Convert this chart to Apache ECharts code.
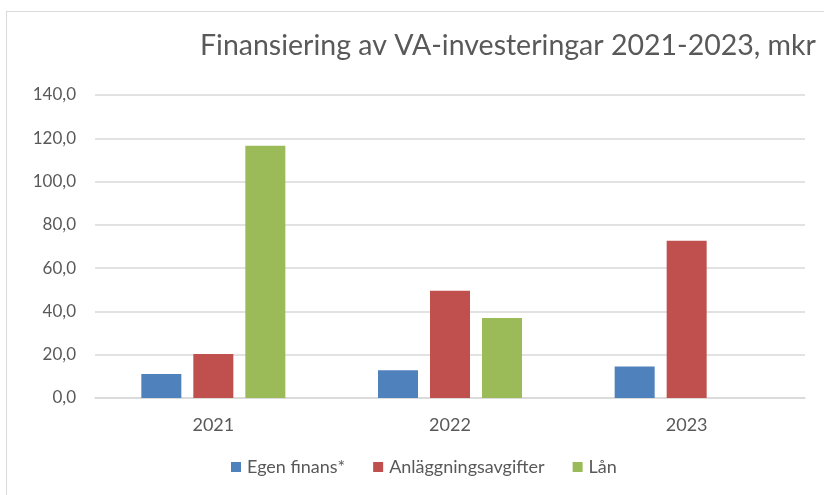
<!DOCTYPE html>
<html>
<head>
<meta charset="utf-8">
<script src="https://cdn.jsdelivr.net/npm/echarts@6/dist/echarts.min.js"></script>
<style>
html, body { margin: 0; padding: 0; background: #fff; }
.frame {
  position: absolute;
  left: 6px;
  top: 11px;
  width: 900px;
  height: 600px;
  border: 1px solid #d9d9d9;
  box-sizing: border-box;
}
#chart {
  position: absolute;
  left: 0;
  top: 0;
  width: 824px;
  height: 495px;
}
</style>
</head>
<body>
<div class="frame"></div>
<div id="chart"></div>
<script>
// data (mkr)
const years = ['2021', '2022', '2023']
const egenFinans = [11.1, 12.8, 14.6]
const anlaggningsavgifter = [20.3, 49.6, 72.7]
const lan = [116.6, 37.0, 0]
const seriesNames = ['Egen finans*', 'Anläggningsavgifter', 'Lån']
const colors = ['#4f81bd', '#c0504d', '#9bbb59']

const font = 'Lato, "Open Sans", sans-serif'
const chart = echarts.init(document.getElementById('chart'))

chart.setOption({
  animation: false,
  textStyle: { fontFamily: font },
  title: {
    text: 'Finansiering av VA-investeringar 2021-2023, mkr',
    left: 195,
    top: 26,
    textStyle: { fontFamily: font, fontSize: 28.5, fontWeight: 'normal', color: '#595959' }
  },
  legend: {
    bottom: 14,
    left: 226,
    itemWidth: 10,
    itemHeight: 10,
    itemGap: 28,
    icon: 'rect',
    textStyle: { fontFamily: font, fontSize: 18, color: '#595959', padding: [0, 0, 0, 1] },
    data: seriesNames
  },
  grid: { left: 95, right: 19, top: 95, bottom: 97 },
  xAxis: {
    type: 'category',
    data: years,
    axisLine: { lineStyle: { color: '#d9d9d9', width: 1.5 } },
    axisTick: { show: false },
    axisLabel: { fontFamily: font, fontSize: 18, color: '#595959', margin: 18 }
  },
  yAxis: {
    type: 'value',
    min: 0,
    max: 140,
    interval: 20,
    axisLine: { show: false },
    axisTick: { show: false },
    splitLine: { lineStyle: { color: '#d9d9d9', width: 1.5 } },
    axisLabel: {
      fontFamily: font,
      fontSize: 17,
      color: '#595959',
      margin: 19,
      formatter: v => v.toFixed(1).replace('.', ',')
    }
  },
  series: [
    { name: seriesNames[0], type: 'bar', data: egenFinans, barWidth: 40, barGap: '30%', itemStyle: { color: colors[0] } },
    { name: seriesNames[1], type: 'bar', data: anlaggningsavgifter, barWidth: 40, barGap: '30%', itemStyle: { color: colors[1] } },
    { name: seriesNames[2], type: 'bar', data: lan, barWidth: 40, barGap: '30%', itemStyle: { color: colors[2] } }
  ]
})
</script>
</body>
</html>
